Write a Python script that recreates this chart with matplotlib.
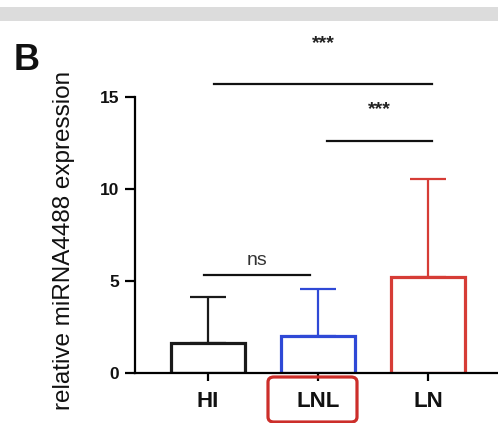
import numpy as np
import matplotlib
matplotlib.use("Agg")
import matplotlib.pyplot as plt
from matplotlib.patches import Rectangle, FancyBboxPatch

groups = ["HI", "LNL", "LN"]
means = [1.6, 2.0, 5.2]
errs = [2.5, 2.55, 5.3]
colors = ["#1a1a1a", "#2f49d6", "#d63c36"]
yticks = [0, 5, 10, 15]

# significance brackets: (x start, x end, line y, label, label y)
brackets = [
    (-0.04, 0.93, 5.3, "ns", 6.1),
    (0.055, 2.04, 15.7, "***", 17.9),
    (1.08, 2.04, 12.6, "***", 14.3),
]

plt.rcParams['font.family'] = ['Liberation Sans', 'DejaVu Sans']

W, H = 498, 423
fig = plt.figure(figsize=(W / 100, H / 100), dpi=100)

def fx(px):
    return px / W

def fy(py):
    return 1 - py / H

# grey strip at the very top
fig.patches.append(Rectangle((0, fy(21)), 1, fy(7) - fy(21), transform=fig.transFigure,
                             facecolor="#dcdcdc", edgecolor="none", zorder=0))

ax_left, ax_right = 135, 498
ax_bottom, ax_top = 372.7, 22
ax = fig.add_axes([fx(ax_left), fy(ax_bottom), fx(ax_right - ax_left), fy(ax_top) - fy(ax_bottom)])
ax.patch.set_alpha(0)

x = np.arange(len(groups))
px_per_unit = 110
ax.set_xlim(-(208 - ax_left) / px_per_unit, 2 + (ax_right - 428) / px_per_unit)
ymax = (ax_bottom - ax_top) / 18.4
ax.set_ylim(0, ymax)

for i in range(len(groups)):
    ax.bar(x[i], means[i], width=0.68, facecolor="white", edgecolor=colors[i],
           linewidth=2.3, zorder=2)
    ax.errorbar(x[i], means[i], yerr=[[0], [errs[i]]], color=colors[i], elinewidth=1.6,
                capsize=13, capthick=1.6, fmt="none", zorder=1)

for x0, x1, yl, lab, ylab in brackets:
    ax.plot([x0, x1], [yl, yl], color="#111111", lw=1.6, clip_on=False)
    if lab == "ns":
        ax.text((x0 + x1) / 2, ylab, lab, ha="center", va="center", fontsize=14,
                color="#333333", clip_on=False)
    else:
        ax.text((x0 + x1) / 2, ylab, lab, ha="center", va="center", fontsize=14,
                fontweight="bold", color="#222222", clip_on=False)

ax.spines['top'].set_visible(False)
ax.spines['right'].set_visible(False)
ax.spines['left'].set_linewidth(1.6)
ax.spines['bottom'].set_linewidth(1.6)
ax.spines['left'].set_bounds(0, 15)
ax.set_yticks(yticks)
ax.set_yticklabels([str(v) for v in yticks], fontsize=12.5, fontweight="bold", color="#111111")
ax.set_xticks(x)
ax.set_xticklabels(groups, fontsize=16, fontweight="bold", color="#111111")
ax.tick_params(axis='y', length=7.2, width=1.6, pad=4)
ax.tick_params(axis='x', length=6, width=1.6, pad=7)

fig.text(fx(64), fy(240), "relative miRNA4488 expression", rotation=90, ha="center",
         va="center", fontsize=17.5, color="#111111")
fig.text(fx(14), fy(60), "B", ha="left", va="center", fontsize=26, fontweight="bold",
         color="#111111")

# red rounded box around the LNL label
fig.patches.append(FancyBboxPatch((fx(268), fy(422)), fx(89), fy(377) - fy(422),
                                  boxstyle="round,pad=0,rounding_size=0.012",
                                  transform=fig.transFigure, facecolor="none",
                                  edgecolor="#cc2e2a", linewidth=2.3, zorder=5))

fig.savefig("out.png", dpi=100)
